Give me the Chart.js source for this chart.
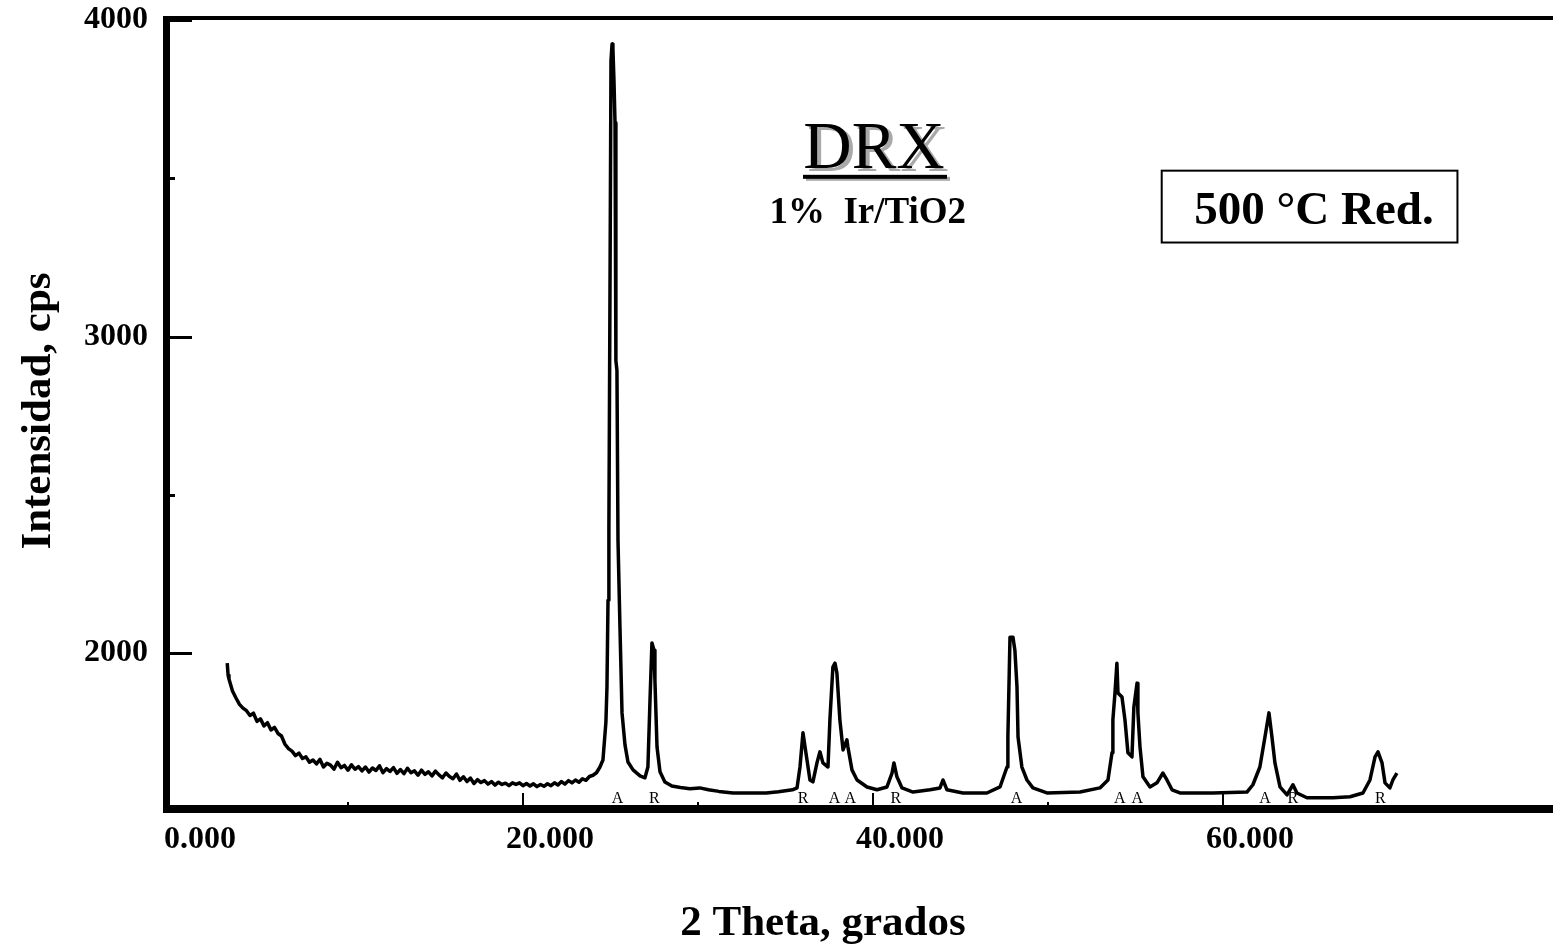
<!DOCTYPE html>
<html>
<head>
<meta charset="utf-8">
<title>DRX 1% Ir/TiO2</title>
<script src="https://cdn.jsdelivr.net/npm/chart.js@4.4.0/dist/chart.umd.min.js"></script>
<style>
  html, body { margin: 0; padding: 0; background: #fff; }
  #wrap { width: 1553px; height: 946px; position: relative; }
</style>
</head>
<body>
<div id="wrap"><canvas id="drx"></canvas></div>
<script>
// Diffractogram, low-angle part (background decay)
const lowAngle = [
  3.10, 3.15, 3.2, 3.4, 3.6, 3.8, 4.0, 4.2, 4.4, 4.6,
  4.8, 5.0, 5.2, 5.4, 5.6, 5.8, 6.0, 6.2, 6.4, 6.6,
  6.8, 7.0, 7.2, 7.4, 7.6, 7.8, 8.0, 8.2, 8.4, 8.6,
  8.8, 9.0, 9.2, 9.4, 9.6, 9.8, 10.0, 10.2, 10.4, 10.6,
  10.8, 11.0, 11.2, 11.4, 11.6, 11.8, 12.0, 12.2, 12.4, 12.6,
  12.8, 13.0, 13.2, 13.4, 13.6, 13.8, 14.0, 14.2, 14.4, 14.6,
  14.8, 15.0, 15.2, 15.4, 15.6, 15.8, 16.0, 16.2, 16.4, 16.6,
  16.8, 17.0, 17.2, 17.4, 17.6, 17.8, 18.0, 18.2, 18.4, 18.6,
  18.8, 19.0, 19.2, 19.4, 19.6, 19.8, 20.0, 20.2, 20.4, 20.6,
  20.8, 21.0, 21.2, 21.4, 21.6, 21.8, 22.0, 22.2, 22.4, 22.6,
  22.8, 23.0, 23.2, 23.4, 23.6, 23.8, 24.0, 24.2, 24.4, 24.57
];
const lowCounts = [
  1968, 1930, 1918, 1880, 1858, 1838, 1826, 1818, 1803, 1810,
  1784, 1792, 1770, 1780, 1757, 1765, 1746, 1738, 1712, 1698,
  1690, 1676, 1684, 1667, 1672, 1655, 1662, 1650, 1664, 1640,
  1652, 1646, 1633, 1655, 1638, 1645, 1630, 1647, 1633, 1641,
  1628, 1640, 1624, 1637, 1629, 1644, 1622, 1635, 1626, 1638,
  1620, 1632, 1619, 1636, 1622, 1628, 1614, 1630, 1617, 1625,
  1612, 1627, 1615, 1606, 1621, 1610, 1603, 1618, 1598, 1609,
  1594, 1605, 1588, 1600, 1591, 1597, 1586, 1594, 1583, 1592,
  1585, 1589, 1581, 1590, 1585, 1590, 1581, 1588, 1580, 1587,
  1578, 1585, 1579, 1587, 1581, 1590, 1583, 1594, 1586, 1597,
  1590, 1599, 1592, 1603, 1598, 1610, 1614, 1622, 1640, 1662
];

// Reflections region
const peakAngle = [
  24.74, 24.80, 24.86, 24.91, 24.97, 25.03, 25.09, 25.14, 25.20, 25.26,
  25.31, 25.37, 25.43, 25.54, 25.66, 25.83, 26.00, 26.29, 26.69, 26.97,
  27.14, 27.26, 27.37, 27.49, 27.54, 27.66, 27.83, 28.11, 28.51, 29.00,
  29.54, 30.10, 30.60, 31.20, 32.00, 33.00, 33.90, 34.60, 35.40, 35.66,
  35.83, 36.00, 36.23, 36.40, 36.57, 36.80, 36.97, 37.14, 37.43, 37.54,
  37.71, 37.83, 37.94, 38.11, 38.29, 38.51, 38.57, 38.80, 39.09, 39.66,
  40.23, 40.80, 41.09, 41.20, 41.37, 41.66, 42.29, 43.26, 43.83, 44.00,
  44.23, 45.14, 46.51, 47.26, 47.66, 47.71, 47.83, 48.00, 48.11, 48.23,
  48.29, 48.51, 48.80, 49.14, 49.94, 51.83, 52.97, 53.43, 53.66, 53.71,
  53.83, 53.94, 54.00, 54.23, 54.40, 54.57, 54.80, 54.91, 55.09, 55.14,
  55.26, 55.43, 55.83, 56.23, 56.57, 56.80, 57.09, 57.54, 59.43, 61.37,
  61.71, 62.11, 62.40, 62.63, 62.80, 62.97, 63.26, 63.66, 64.00, 64.23,
  64.80, 66.29, 67.26, 68.00, 68.40, 68.69, 68.86, 69.09, 69.26, 69.54,
  69.71, 69.94
];
const peakCounts = [
  1782, 1893, 2167, 2388, 3114, 3871, 3924, 3909, 3808, 3675,
  2924, 2893, 2357, 2088, 1811, 1710, 1656, 1631, 1612, 1606,
  1640, 1852, 2032, 2009, 1915, 1703, 1625, 1593, 1580, 1575,
  1571, 1574, 1568, 1563, 1558, 1558, 1558, 1562, 1568, 1574,
  1640, 1748, 1662, 1599, 1593, 1653, 1688, 1653, 1640, 1789,
  1956, 1968, 1937, 1789, 1694, 1726, 1703, 1631, 1599, 1577,
  1568, 1577, 1621, 1653, 1609, 1574, 1561, 1568, 1574, 1599,
  1568, 1558, 1558, 1577, 1640, 1735, 2050, 2050, 2009, 1893,
  1735, 1640, 1599, 1574, 1558, 1561, 1574, 1599, 1685, 1789,
  1874, 1968, 1874, 1861, 1789, 1685, 1672, 1830, 1905, 1811,
  1703, 1609, 1577, 1590, 1621, 1599, 1568, 1558, 1558, 1561,
  1584, 1640, 1735, 1811, 1735, 1653, 1577, 1552, 1584, 1558,
  1543, 1543, 1546, 1558, 1599, 1672, 1688, 1653, 1590, 1574,
  1599, 1621
];

// Phase marks under the peaks: A = anatase, R = rutile
const phaseAngle = [25.4, 27.5, 36.0, 37.8, 38.7, 41.3, 48.2, 54.1, 55.1, 62.4, 64.0, 69.0];
const phaseLabel = ['A', 'R', 'R', 'A', 'A', 'R', 'A', 'A', 'A', 'A', 'R', 'R'];

// Axis ticks
const xTicks = [0, 20, 40, 60];
const xMinorTicks = [10, 30, 50];
const yTicks = [2000, 3000, 4000];
const yMinorTicks = [2500, 3500];

const serif = "'Liberation Serif', 'Times New Roman', serif";

const twoTheta = lowAngle.concat(peakAngle);
const counts = lowCounts.concat(peakCounts);
const points = twoTheta.map((t, i) => ({ x: t, y: counts[i] }));

// Frame, inward ticks, phase letters and the text blocks
const decorations = {
    id: 'decorations',
    afterDatasetsDraw(chart) {
        const { ctx, chartArea: area, scales: { x, y } } = chart;
        ctx.save();
        ctx.fillStyle = '#000';

        // tick marks pointing into the plot
        xTicks.filter(v => v > 0).forEach(v => {
            const px = Math.round(x.getPixelForValue(v));
            ctx.fillRect(px - 1, area.bottom - 12, 2, 12);
        });
        xMinorTicks.forEach(v => {
            const px = Math.round(x.getPixelForValue(v));
            ctx.fillRect(px - 1, area.bottom - 3, 2, 3);
        });
        yTicks.forEach(v => {
            const py = Math.round(y.getPixelForValue(v));
            ctx.fillRect(area.left, py - 1, 22, 3);
        });
        yMinorTicks.forEach(v => {
            const py = Math.round(y.getPixelForValue(v));
            ctx.fillRect(area.left, py - 1, 5, 3);
        });

        // frame: left, top and bottom borders
        ctx.fillRect(area.left - 7, area.top - 4, 7, area.bottom - area.top + 12);
        ctx.fillRect(area.left - 7, area.top - 4, area.right - area.left + 7, 4);
        ctx.fillRect(area.left - 7, area.bottom, area.right - area.left + 7, 8);

        // phase letters
        ctx.font = `16px ${serif}`;
        ctx.textAlign = 'center';
        ctx.textBaseline = 'alphabetic';
        phaseAngle.forEach((a, i) => {
            ctx.fillText(phaseLabel[i], x.getPixelForValue(a), area.bottom - 2);
        });

        // "DRX" title with grey drop shadow and underline
        const drxX = x.getPixelForValue(40.06);
        const drxY = y.getPixelForValue(3533);
        ctx.font = `67px ${serif}`;
        ctx.fillStyle = '#a9a9a9';
        ctx.fillText('DRX', drxX + 4, drxY + 3);
        ctx.fillRect(drxX - 71 + 3, drxY + 9, 144, 4);
        ctx.fillStyle = '#000';
        ctx.fillText('DRX', drxX, drxY);
        ctx.fillRect(drxX - 71, drxY + 7, 144, 4);

        // sample
        ctx.font = `bold 37px ${serif}`;
        ctx.fillText('1%  Ir/TiO2', x.getPixelForValue(39.7), y.getPixelForValue(3360));

        // treatment box
        const bx0 = x.getPixelForValue(56.5), bx1 = x.getPixelForValue(73.4);
        const by0 = y.getPixelForValue(3524), by1 = y.getPixelForValue(3297);
        ctx.lineWidth = 2;
        ctx.strokeStyle = '#000';
        ctx.strokeRect(bx0, by0, bx1 - bx0, by1 - by0);
        ctx.font = `bold 47px ${serif}`;
        ctx.fillText('500 °C Red.', x.getPixelForValue(65.2), y.getPixelForValue(3354));

        // axis titles
        ctx.font = `bold 43px ${serif}`;
        ctx.fillText('2 Theta, grados', 823, 935);
        ctx.translate(50, 411);
        ctx.rotate(-Math.PI / 2);
        ctx.fillText('Intensidad, cps', 0, 0);

        ctx.restore();
    }
};

const ctx = document.getElementById('drx').getContext('2d');

new Chart(ctx, {
    type: 'line',
    data: {
        datasets: [{
            label: '1% Ir/TiO2',
            data: points,
            borderColor: '#000',
            borderWidth: 3.5,
            borderJoinStyle: 'round',
            pointRadius: 0,
            tension: 0,
            fill: false
        }]
    },
    options: {
        responsive: true,
        maintainAspectRatio: false,
        animation: false,
        layout: { padding: { top: 20, left: 0, right: 0, bottom: 0 } },
        plugins: {
            legend: { display: false },
            tooltip: { enabled: false }
        },
        scales: {
            x: {
                type: 'linear',
                min: -0.17,
                max: 78.86,
                afterBuildTicks: scale => { scale.ticks = xTicks.map(v => ({ value: v })); },
                afterFit: scale => {
                    scale.height = 141;
                    scale.paddingLeft = 0;
                    scale.paddingRight = 0;
                },
                grid: { display: false, drawTicks: false },
                border: { display: false },
                ticks: {
                    autoSkip: false,
                    maxRotation: 0,
                    padding: 16,
                    labelOffset: 27,
                    color: '#000',
                    font: { family: serif, size: 32, weight: 'bold' },
                    callback: v => v.toFixed(3)
                }
            },
            y: {
                min: 1520,
                max: 4000,
                afterBuildTicks: scale => { scale.ticks = yTicks.map(v => ({ value: v })); },
                afterFit: scale => {
                    scale.width = 170;
                    scale.paddingTop = 0;
                    scale.paddingBottom = 0;
                },
                grid: { display: false, drawTicks: false },
                border: { display: false },
                ticks: {
                    padding: 22,
                    color: '#000',
                    font: { family: serif, size: 32, weight: 'bold' },
                    callback: v => String(v)
                }
            }
        }
    },
    plugins: [decorations]
});
</script>
</body>
</html>
